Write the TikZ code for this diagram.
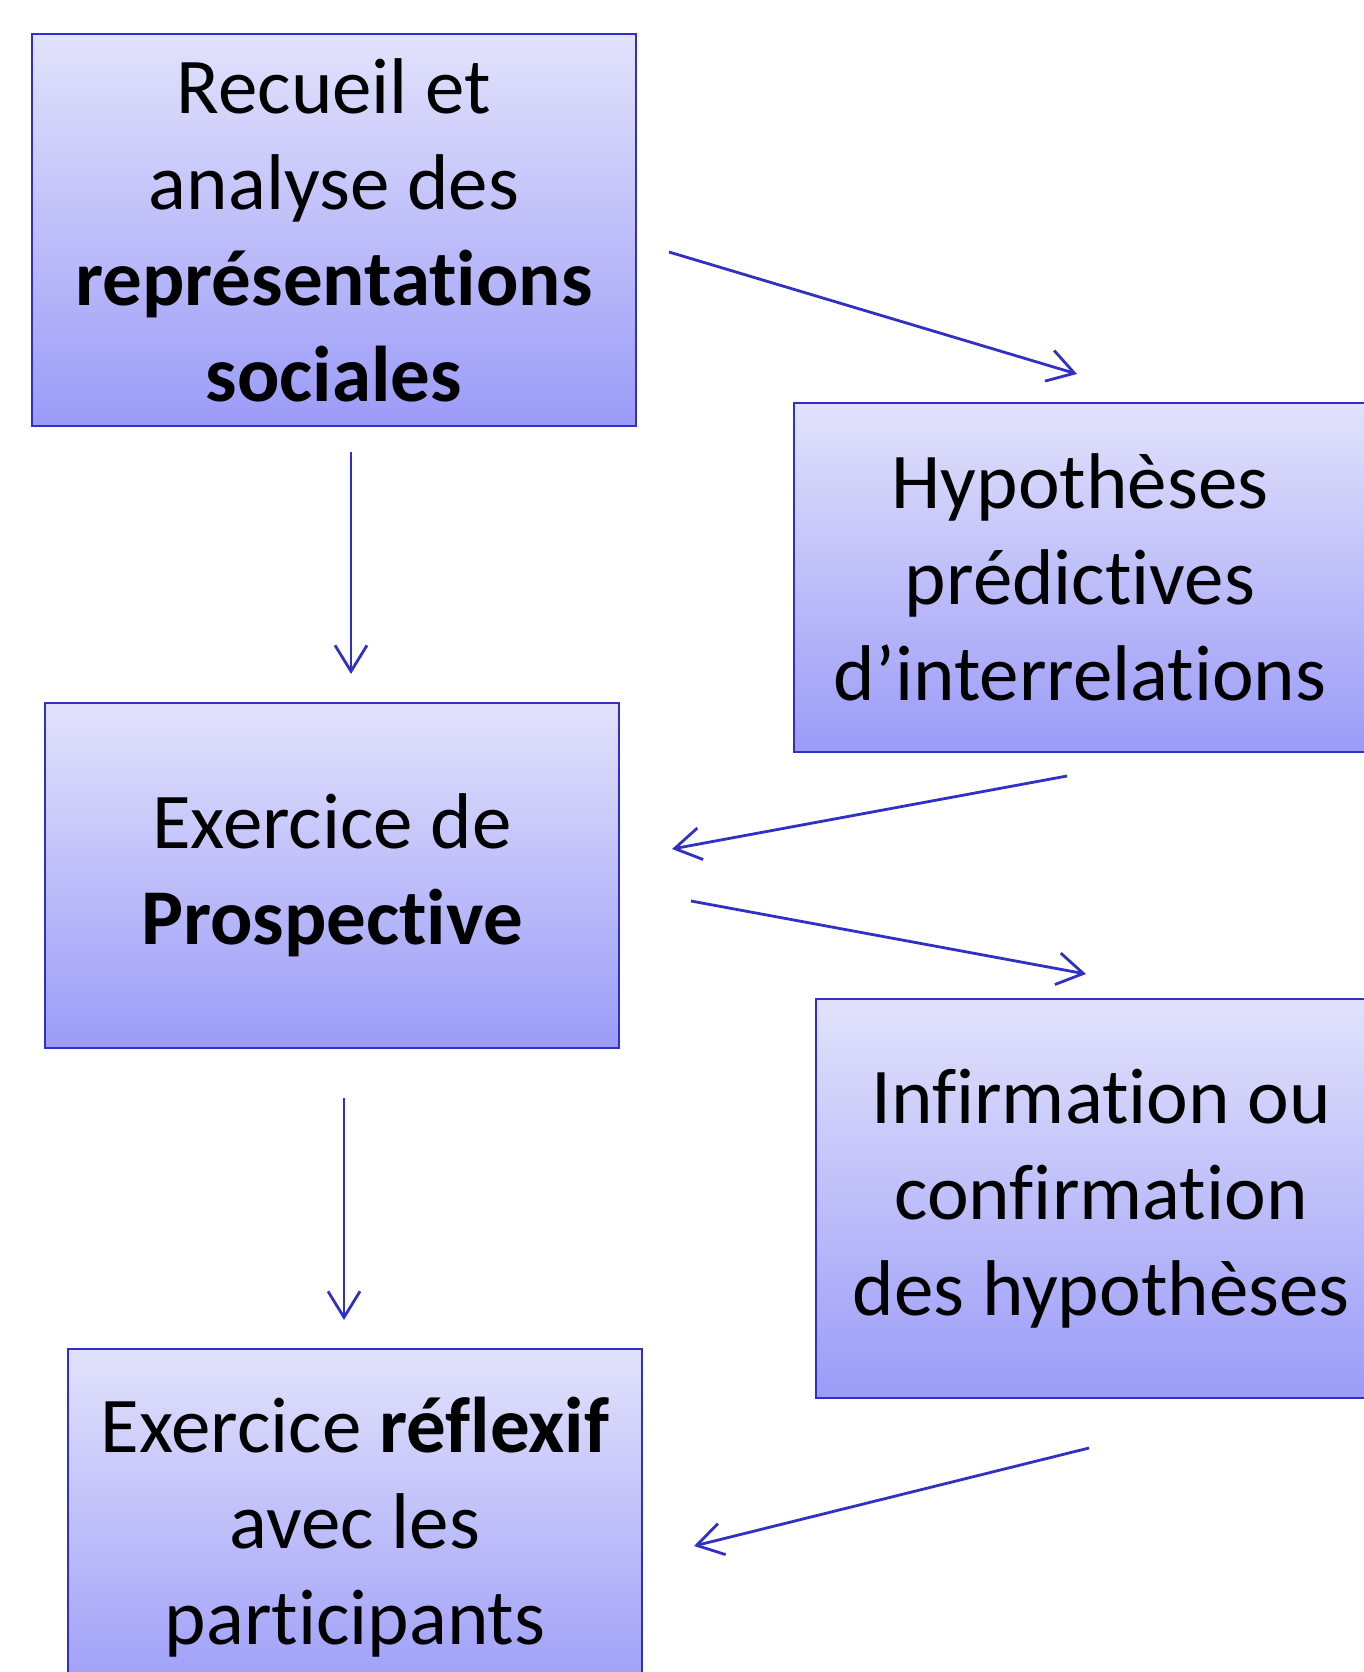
\documentclass[tikz,border=0pt]{standalone}
\usepackage{fontspec}
\setmainfont{Carlito}[Ligatures=NoCommon]
\usetikzlibrary{arrows.meta,shadings}
\definecolor{bord}{RGB}{48,48,196}
\definecolor{topc}{RGB}{226,226,252}
\definecolor{botc}{RGB}{155,155,248}
\begin{document}
\begin{tikzpicture}[x=1pt,y=-1pt,
  box/.style={draw=bord, line width=2.8pt, top color=topc, bottom color=botc,
    align=center, inner sep=0pt, font=\fontsize{79}{96}\selectfont},
  conn/.style={draw=bord, line width=2.8pt, -{Straight Barb[length=26pt,width=32pt]}}]
\useasboundingbox (0,0) rectangle (1364,1672);
\clip (0,0) rectangle (1364,1672);
\node[box, minimum width=604pt, minimum height=392pt] (rs) at (334,230)
  {Recueil et\\analyse des\\\textbf{représentations}\\\textbf{sociales}};
\node[box, minimum width=572pt, minimum height=349pt] (hyp) at (1080,577.5)
  {Hypothèses\\prédictives\\d’interrelations};
\node[box, minimum width=574pt, minimum height=345pt] (pro) at (332,875.5)
  {Exercice de\\\textbf{Prospective}};
\node[box, minimum width=570pt, minimum height=399pt] (inf) at (1101,1198.5)
  {Infirmation ou\\confirmation\\des hypothèses};
\node[box, minimum width=574pt, minimum height=356pt] (ref) at (355,1527)
  {Exercice \textbf{réflexif}\\avec les\\participants};
\coordinate (a1s) at (669,252);  \coordinate (a1e) at (1077,374);
\coordinate (a2s) at (351,452);  \coordinate (a2e) at (351,674);
\coordinate (a3s) at (1067,776); \coordinate (a3e) at (672,849);
\coordinate (a4s) at (691,901);  \coordinate (a4e) at (1086,974);
\coordinate (a5s) at (344,1098); \coordinate (a5e) at (344,1320);
\coordinate (a6s) at (1089,1448); \coordinate (a6e) at (694,1546);
\draw[conn] (a1s) -- (a1e);
\draw[conn] (a2s) -- (a2e);
\draw[conn] (a3s) -- (a3e);
\draw[conn] (a4s) -- (a4e);
\draw[conn] (a5s) -- (a5e);
\draw[conn] (a6s) -- (a6e);
\end{tikzpicture}
\end{document}
